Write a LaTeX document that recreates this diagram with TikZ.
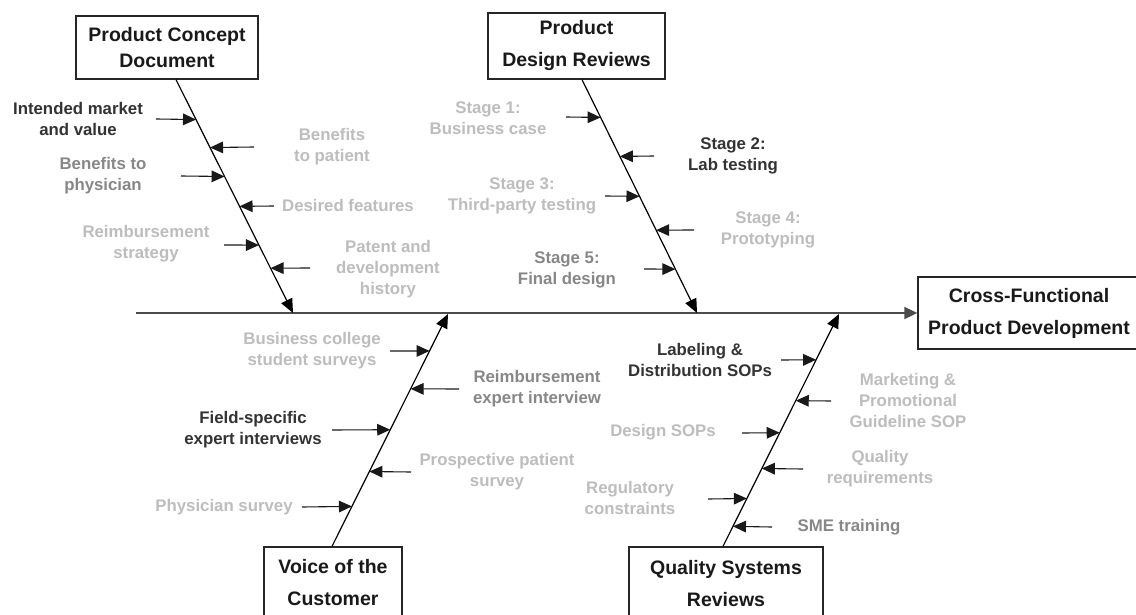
\documentclass[tikz,border=0pt]{standalone}
\usepackage{fontspec}
\setmainfont{Liberation Sans}
\usetikzlibrary{arrows.meta,calc,positioning}

\definecolor{txtdark}{gray}{0.2}
\definecolor{txtmid}{gray}{0.53}
\definecolor{txtlight}{gray}{0.74}

\tikzset{
  headbox/.style={draw=black!85, line width=0.65pt, fill=white, align=center, inner sep=0pt,
    text=black!90, font=\fontsize{9.75pt}{16pt}\selectfont\bfseries},
  cause/.style={align=center, inner sep=0pt, font=\fontsize{8.4pt}{10.5pt}\selectfont\bfseries},
  bone/.style={line width=0.6pt, -{Triangle[length=7pt,width=6pt]}},
  rib/.style={line width=0.55pt, black!90, -{Triangle[length=6.5pt,width=5.8pt]}},
}

\begin{document}
\begin{tikzpicture}[x=0.5pt, y=-0.5pt]
				\clip (0,0) rectangle (1136,615);
				\fill[white] (0,0) rectangle (1136,615);
				% head boxes
				\node[headbox, minimum width=91pt, minimum height=31.5pt, font=\fontsize{9.75pt}{13pt}\selectfont\bfseries] (pcd) at (167,47.5) {Product Concept\\Document};
				\node[headbox, minimum width=88.5pt, minimum height=33pt] (pdr) at (576.5,46) {Product\\Design Reviews};
				\node[headbox, minimum width=69pt, minimum height=35.5pt] (voc) at (333,582.5) {Voice of the\\Customer};
				\node[headbox, minimum width=97pt, minimum height=36.5pt] (qsr) at (726,583.5) {Quality Systems\\Reviews};
				\node[headbox, minimum width=111pt, minimum height=36pt] (cfd) at (1029,313) {Cross-Functional\\Product Development};
				% spine
				\coordinate (tail) at (136,313);
				\draw[line width=0.9pt, black!70, -{Triangle[length=6.5pt,width=6pt]}] (tail) -- (cfd.west);
				% bones
				\coordinate (r1) at ([xshift=4.5pt]pcd.south);
				\coordinate (r2) at ([xshift=2.75pt]pdr.south);
				\coordinate (r3) at ([xshift=-0.5pt]voc.north);
				\coordinate (r4) at ([xshift=-1.5pt]qsr.north);
				\coordinate (t1) at (293,313);
				\coordinate (t2) at (697,313);
				\coordinate (t3) at (448,314);
				\coordinate (t4) at (839,314);
				\draw[bone] (r1) -- (t1);
				\draw[bone] (r2) -- (t2);
				\draw[bone] (r3) -- (t3);
				\draw[bone] (r4) -- (t4);
				% product concept document
				\node[cause, text=txtdark] (l1a) at (78,118.5) {Intended market\\and value};
				\node[cause, text=txtlight] (l1b) at (332,146.5) {Benefits\\to patient};
				\node[cause, text=txtmid] (l1c) at (103,175.5) {Benefits to\\physician};
				\node[cause, text=txtlight] (l1d) at (348,205) {Desired features};
				\node[cause, text=txtlight] (l1e) at (146,243.5) {Reimbursement\\strategy};
				\node[cause, text=txtlight] (l1f) at (388,269) {Patent and\\development\\history};
				\draw[rib] (156,119) coordinate (c1a) -- ($(r1)!0.171!(t1)$);
				\draw[rib] (254,147) coordinate (c1b) -- ($(r1)!0.291!(t1)$);
				\draw[rib] (181,176) coordinate (c1c) -- ($(r1)!0.415!(t1)$);
				\draw[rib] (274,206) coordinate (c1d) -- ($(r1)!0.543!(t1)$);
				\draw[rib] (224,245) coordinate (c1e) -- ($(r1)!0.709!(t1)$);
				\draw[rib] (310,268) coordinate (c1f) -- ($(r1)!0.808!(t1)$);
				% product design reviews
				\node[cause, text=txtlight] (l2a) at (488,118) {Stage 1:\\Business case};
				\node[cause, text=txtdark] (l2b) at (733,156) {Stage 2:\\Lab testing};
				\node[cause, text=txtlight] (l2c) at (522,196) {Stage 3:\\Third-party testing};
				\node[cause, text=txtlight] (l2d) at (768,230) {Stage 4:\\Prototyping};
				\node[cause, text=txtmid] (l2e) at (567,269.5) {Stage 5:\\Final design};
				\draw[rib] (566,117) coordinate (c2a) -- ($(r2)!0.162!(t2)$);
				\draw[rib] (654,156) coordinate (c2b) -- ($(r2)!0.329!(t2)$);
				\draw[rib] (605,196) coordinate (c2c) -- ($(r2)!0.500!(t2)$);
				\draw[rib] (694,230) coordinate (c2d) -- ($(r2)!0.645!(t2)$);
				\draw[rib] (644,269) coordinate (c2e) -- ($(r2)!0.812!(t2)$);
				% voice of the customer
				\node[cause, text=txtlight] (l3a) at (312,350.5) {Business college\\student surveys};
				\node[cause, text=txtmid] (l3b) at (537,388.5) {Reimbursement\\expert interview};
				\node[cause, text=txtdark] (l3c) at (253,429.5) {Field-specific\\expert interviews};
				\node[cause, text=txtlight] (l3d) at (497,471.5) {Prospective patient\\survey};
				\node[cause, text=txtlight] (l3e) at (224,507) {Physician survey};
				\draw[rib] (390,351) coordinate (c3a) -- ($(r3)!0.841!(t3)$);
				\draw[rib] (459,389) coordinate (c3b) -- ($(r3)!0.678!(t3)$);
				\draw[rib] (332,430) coordinate (c3c) -- ($(r3)!0.502!(t3)$);
				\draw[rib] (411,472) coordinate (c3d) -- ($(r3)!0.322!(t3)$);
				\draw[rib] (302,507) coordinate (c3e) -- ($(r3)!0.172!(t3)$);
				% quality systems reviews
				\node[cause, text=txtdark] (l4a) at (700,359.5) {Labeling \&\\Distribution SOPs};
				\node[cause, text=txtlight] (l4b) at (908,400) {Marketing \&\\Promotional\\Guideline SOP};
				\node[cause, text=txtlight] (l4c) at (663,432) {Design SOPs};
				\node[cause, text=txtlight] (l4d) at (880,468.5) {Quality\\requirements};
				\node[cause, text=txtlight] (l4e) at (630,498) {Regulatory\\constraints};
				\node[cause, text=txtmid] (l4f) at (849,527) {SME training};
				\draw[rib] (781,360) coordinate (c4a) -- ($(r4)!0.803!(t4)$);
				\draw[rib] (831,401) coordinate (c4b) -- ($(r4)!0.627!(t4)$);
				\draw[rib] (742,433) coordinate (c4c) -- ($(r4)!0.489!(t4)$);
				\draw[rib] (803,469) coordinate (c4d) -- ($(r4)!0.335!(t4)$);
				\draw[rib] (708,499) coordinate (c4e) -- ($(r4)!0.206!(t4)$);
				\draw[rib] (772,527) coordinate (c4f) -- ($(r4)!0.086!(t4)$);
			\end{tikzpicture}
\end{document}
